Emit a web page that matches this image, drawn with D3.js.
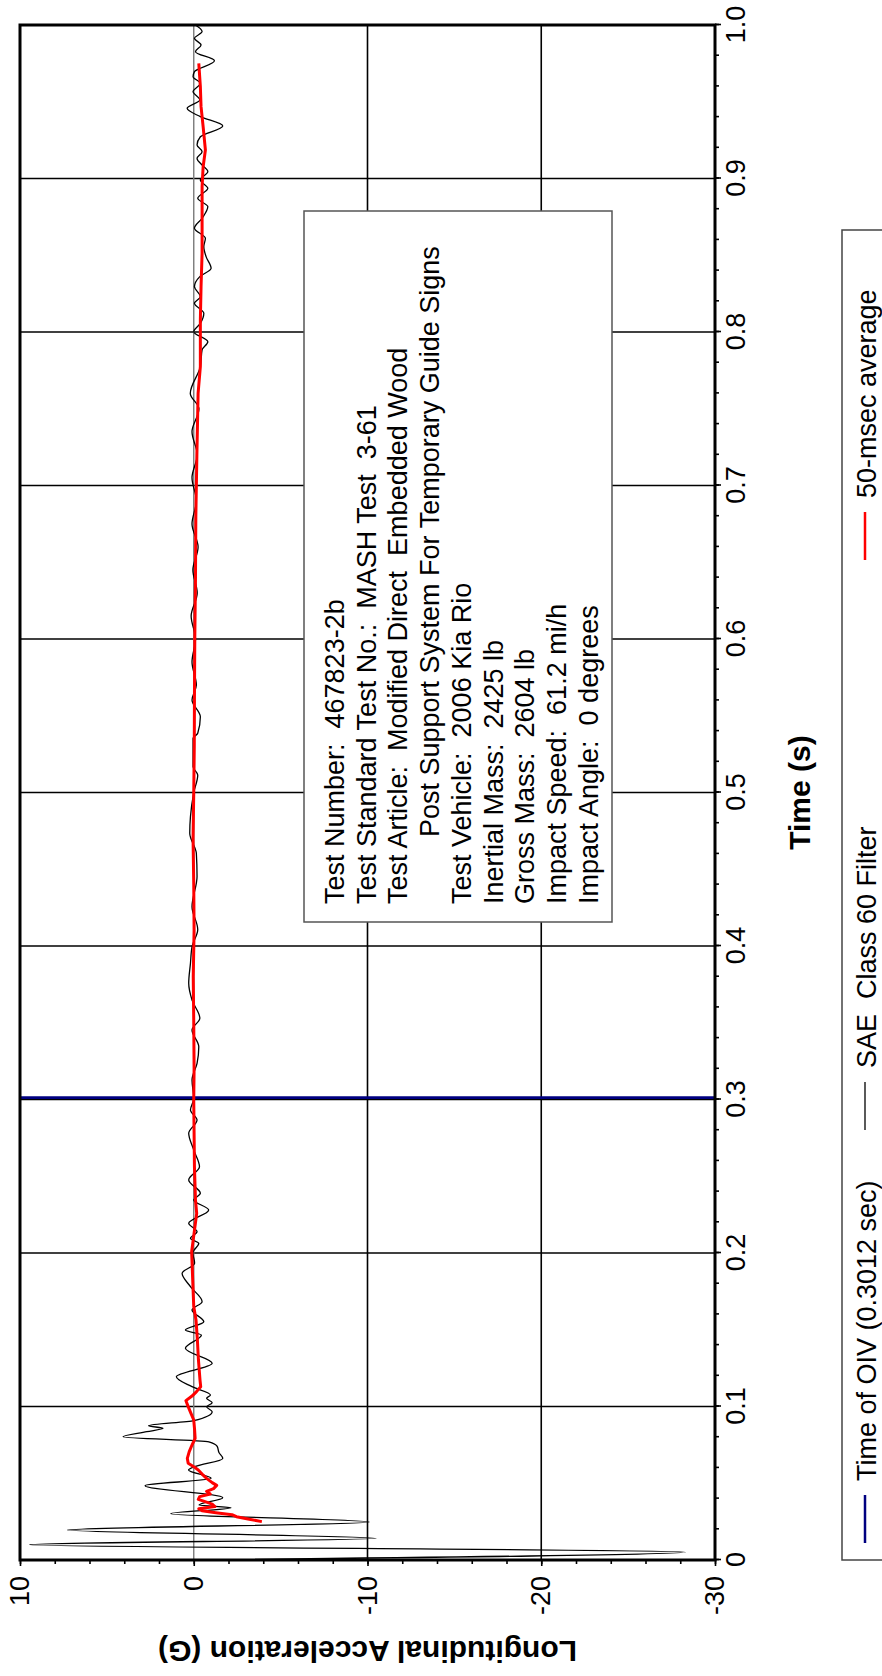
<!DOCTYPE html>
<html><head><meta charset="utf-8">
<script src="https://cdn.jsdelivr.net/npm/d3@7"></script>
<style>
body{margin:0;background:#fff}
svg{display:block}
text{font-family:"Liberation Sans",Arial,sans-serif;fill:#000}
</style>
</head><body>
<svg id="chart" width="882" height="1676"></svg>
<script>
// ---------- data ----------
const timeTicks = [0,0.1,0.2,0.3,0.4,0.5,0.6,0.7,0.8,0.9,1.0];
const timeTickLabels = ["0","0.1","0.2","0.3","0.4","0.5","0.6","0.7","0.8","0.9","1.0"];
const accelTicks = [10,0,-10,-20,-30];
const accelTickLabels = ["10","0","-10","-20","-30"];
const oivTime = 0.3012;

// SAE Class 60 filtered signal (time s, acceleration G)
const saeTime = [0,0.0052,0.0100,0.0141,0.0195,0.0248,0.0302,0.0341,0.0358,0.0406,0.0484,0.0532,0.0586,0.0610,0.0662,0.0700,0.0740,0.0770,0.0803,0.0836,0.0858,0.0875,0.0908,0.0966,0.0998,0.1025,0.1053,0.1075,0.1129,0.1194,0.1281,0.1379,0.1466,0.1498,0.1552,0.1629,0.1683,0.1781,0.1868,0.1933,0.2002,0.2063,0.2096,0.2139,0.2193,0.2280,0.2345,0.2389,0.2476,0.2562,0.2671,0.2780,0.2866,0.2932,0.3007,0.3127,0.3236,0.3344,0.3453,0.3529,0.3648,0.3757,0.3887,0.3995,0.4107,0.4256,0.4452,0.4603,0.4734,0.4843,0.4999,0.5114,0.5168,0.5353,0.5386,0.5494,0.5603,0.570,0.585,0.600,0.615,0.630,0.645,0.660,0.675,0.690,0.705,0.720,0.735,0.750,0.760,0.7774,0.7883,0.7937,0.8002,0.8056,0.8122,0.8187,0.8230,0.8296,0.8361,0.8415,0.8491,0.8556,0.8611,0.8676,0.8741,0.8817,0.8871,0.8936,0.8990,0.9045,0.9088,0.9131,0.9175,0.9218,0.9272,0.9342,0.9403,0.9457,0.9511,0.9566,0.9620,0.9663,0.9696,0.9767,0.9826,0.9870,0.9913,0.9957,1.0];
const saeAccel = [0,-28.3,9.44,-10.5,7.28,-10.1,1.32,-2.14,-0.3,-1.67,2.8,-1.0,0.3,-0.1,-1.67,-1.45,-1.35,-0.87,4.07,2.7,1.77,2.6,0.0,-1.06,-0.74,-1.06,-0.74,-0.96,0.1,1.0,-1.06,0.48,-0.44,0.48,-0.58,0.1,-0.48,0.19,0.67,-0.05,0.05,-0.29,0.19,-0.19,0.29,-0.86,0.0,-0.38,0.29,-0.33,0.0,0.29,-0.19,0.19,0.0,0.1,-0.19,-0.29,0.1,-0.35,0.1,0.29,0.19,0.1,-0.23,0.1,-0.19,-0.15,0.23,0.19,0.0,-0.23,0.04,0.04,-0.23,-0.38,0.1,-0.15,0.1,-0.1,0.15,-0.2,0.05,-0.25,0.1,-0.15,0.1,-0.2,0.1,-0.3,0.2,-0.38,-0.48,-0.81,0.0,-0.38,-0.58,-0.04,-0.38,-0.04,-0.35,-1.0,-0.71,-0.58,-0.67,-0.04,-0.48,-0.81,-0.23,-0.81,-0.38,-0.81,-0.48,-0.19,-0.48,-0.19,-0.38,-1.67,-0.38,0.38,-0.35,0.04,-0.38,0.04,-0.04,-1.19,-0.1,-0.42,-0.04,-0.48,-0.1];

// 50-msec moving average (time s, acceleration G)
const avgTime = [0.0250,0.0267,0.0282,0.0295,0.0308,0.0321,0.0334,0.0348,0.0364,0.0382,0.0395,0.0413,0.0430,0.0447,0.0465,0.0486,0.0504,0.0532,0.0560,0.0586,0.0608,0.0630,0.0662,0.0706,0.0749,0.0793,0.0847,0.0912,0.0955,0.0999,0.1038,0.1068,0.1097,0.1129,0.1172,0.1303,0.1433,0.1564,0.1651,0.1824,0.2009,0.2258,0.2345,0.2562,0.2997,0.32,0.35,0.38,0.41,0.44,0.47,0.50,0.53,0.56,0.60,0.64,0.68,0.72,0.76,0.7774,0.8077,0.8296,0.8513,0.8730,0.8947,0.9077,0.9186,0.9338,0.9468,0.9599,0.9750];
const avgAccel = [-3.92,-3.12,-2.46,-2.2,-1.27,-0.48,-0.29,-1.22,-1.06,-0.61,-0.26,-0.34,-0.95,-0.74,-1.14,-1.32,-1.06,-0.74,-0.48,-0.26,0.0,0.32,0.37,0.26,0.1,-0.08,-0.05,0.0,0.16,0.32,0.45,0.1,-0.16,-0.4,-0.36,-0.27,-0.21,-0.13,0.0,0.06,0.12,-0.17,-0.1,-0.04,0.0,-0.02,0.0,0.03,-0.02,0.0,0.04,0.0,-0.03,-0.04,-0.06,-0.1,-0.12,-0.18,-0.25,-0.38,-0.38,-0.42,-0.48,-0.48,-0.48,-0.54,-0.67,-0.54,-0.42,-0.38,-0.29];

const legendLabels = ["Time of OIV (0.3012 sec)","SAE  Class 60 Filter","50-msec average"];
const legendColors = ["#000080","#000000","#ff0000"];
const infoLines = [
  "Test Number:  467823-2b",
  "Test Standard Test No.:  MASH Test  3-61",
  "Test Article:  Modified Direct  Embedded Wood",
  "Post Support System For Temporary Guide Signs",
  "Test Vehicle:  2006 Kia Rio",
  "Inertial Mass:  2425 lb",
  "Gross Mass:  2604 lb",
  "Impact Speed:  61.2 mi/h",
  "Impact Angle:  0 degrees"
];
const xTitle = "Time (s)";
const yTitle = "Longitudinal Acceleration (G)";

// ---------- layout (chart drawn in its own frame, then turned -90°) ----------
const W = 1535, H = 695;
const svg = d3.select("#chart");
svg.append("rect").attr("width",882).attr("height",1676).attr("fill","#fff");
const g = svg.append("g").attr("transform","translate(20,1560) rotate(-90)");

const x = d3.scaleLinear().domain([0,1]).range([0,W]);
const y = d3.scaleLinear().domain([10,-30]).range([0,H]);

// grid
g.append("g").selectAll("line").data(timeTicks.filter(t=>t>0&&t<1)).join("line")
  .attr("x1",d=>x(d)).attr("x2",d=>x(d)).attr("y1",0).attr("y2",H)
  .attr("stroke","#000").attr("stroke-width",1.6);
g.append("g").selectAll("line").data(accelTicks.filter(a=>a<10&&a>-30)).join("line")
  .attr("x1",0).attr("x2",W).attr("y1",d=>y(d)).attr("y2",d=>y(d))
  .attr("stroke",d=>d===0?"#7a7a7a":"#000").attr("stroke-width",d=>d===0?1.4:1.6);

// OIV line
g.append("line").attr("x1",x(oivTime)).attr("x2",x(oivTime)).attr("y1",1).attr("y2",H-1)
  .attr("stroke","#000080").attr("stroke-width",2.6);

// series
const saeData = saeTime.map((t,i)=>[t,saeAccel[i]]);
const avgData = avgTime.map((t,i)=>[t,avgAccel[i]]);
g.append("path").datum(saeData)
  .attr("d",d3.line().x(d=>x(d[0])).y(d=>y(d[1])).curve(d3.curveMonotoneX))
  .attr("fill","none").attr("stroke","#000").attr("stroke-width",1.3);
g.append("path").datum(avgData)
  .attr("d",d3.line().x(d=>x(d[0])).y(d=>y(d[1])))
  .attr("fill","none").attr("stroke","#ff0000").attr("stroke-width",3).attr("stroke-linejoin","round");

// info box
const info = g.append("g");
info.append("rect").attr("x",638).attr("y",284).attr("width",711).attr("height",308)
  .attr("fill","#fff").attr("stroke","#555").attr("stroke-width",1.5);
info.selectAll("text").data(infoLines).join("text")
  .attr("x",(d,i)=>i===3?723:656).attr("y",(d,i)=>324+31.7*i)
  .attr("font-size",27).style("white-space","pre").text(d=>d);

// frame
g.append("rect").attr("x",0).attr("y",0).attr("width",W).attr("height",H)
  .attr("fill","none").attr("stroke","#000").attr("stroke-width",3);

// time axis (original bottom)
const xAxis = g.append("g").attr("transform",`translate(0,${H})`);
xAxis.call(d3.axisBottom(x).tickValues(d3.range(0,51).map(i=>i/50)).tickSize(4).tickFormat(""));
xAxis.append("g").call(d3.axisBottom(x).tickValues(timeTicks).tickSize(6).tickPadding(5)
  .tickFormat((d,i)=>timeTickLabels[i]));
xAxis.selectAll(".domain").remove();
xAxis.selectAll("line").attr("stroke","#000").attr("stroke-width",1.6);
xAxis.selectAll("text").attr("font-size",27).attr("font-family","Liberation Sans, Arial, sans-serif").attr("fill","#000");

// accel axis (original left)
const yAxis = g.append("g");
yAxis.call(d3.axisLeft(y).tickValues(d3.range(10,-31,-2)).tickSize(4).tickFormat(""));
yAxis.append("g").call(d3.axisLeft(y).tickValues(accelTicks).tickSize(6).tickPadding(10)
  .tickFormat((d,i)=>accelTickLabels[i]));
yAxis.selectAll(".domain").remove();
yAxis.selectAll("line").attr("stroke","#000").attr("stroke-width",1.6);
yAxis.selectAll("text").attr("font-size",27).attr("font-family","Liberation Sans, Arial, sans-serif").attr("fill","#000");

// axis titles
g.append("text").attr("x",W/2).attr("y",790).attr("text-anchor","middle")
  .attr("font-size",30).attr("font-weight","bold").text(xTitle);
g.append("text").attr("transform",`translate(-81,${H/2}) rotate(-90)`).attr("text-anchor","middle")
  .attr("font-size",30).attr("font-weight","bold").text(yTitle);

// legend
const leg = g.append("g");
leg.append("rect").attr("x",0).attr("y",822).attr("width",1330).attr("height",120)
  .attr("fill","#fff").attr("stroke","#444").attr("stroke-width",1.5);
const legX = [17,430,1000];
legendLabels.forEach((lab,i)=>{
  leg.append("line").attr("x1",legX[i]).attr("x2",legX[i]+48).attr("y1",845).attr("y2",845)
    .attr("stroke",legendColors[i]).attr("stroke-width",i===1?1.3:2.5);
  leg.append("text").attr("x",legX[i]+62).attr("y",856).attr("font-size",27)
    .style("white-space","pre").text(lab);
});
</script>
</body></html>
